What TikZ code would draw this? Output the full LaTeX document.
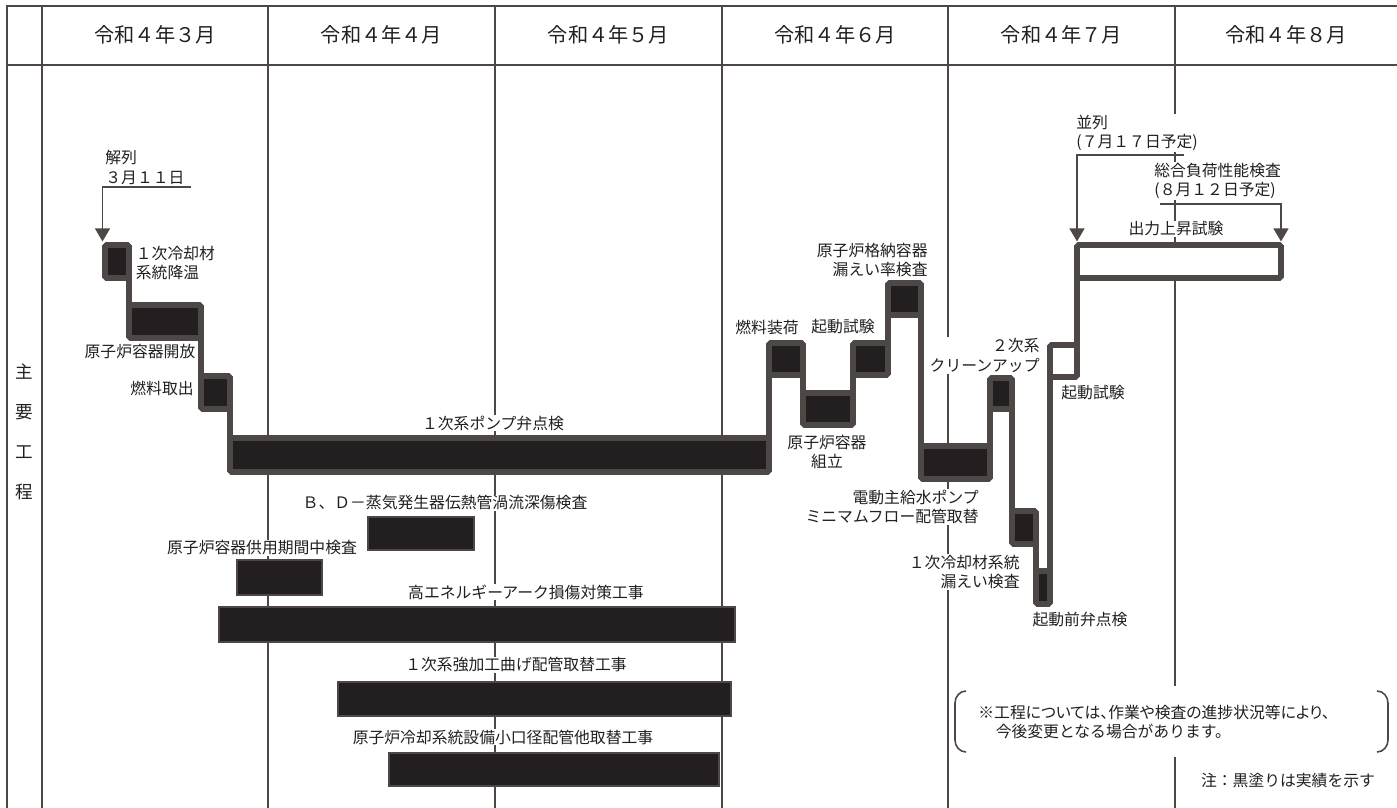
\documentclass[tikz,border=0pt]{standalone}
\usepackage{fontspec}
\setmainfont{Noto Sans CJK JP}
\newfontfamily\paltfont[RawFeature=+palt]{Noto Sans CJK JP}
\usetikzlibrary{arrows.meta,fit}
\definecolor{lineC}{RGB}{77,71,69}
\definecolor{boxC}{RGB}{35,31,32}
\definecolor{txtC}{RGB}{35,31,32}
\newcommand\lf{\fontsize{9pt}{11.2pt}\selectfont}
\begin{document}
\begin{tikzpicture}[x=0.02cm,y=-0.02cm,
 gridline/.style={lineC, line width=1.2pt},
 lbl/.style={fill=white, inner sep=0.6pt, text=txtC, font=\lf},
 head/.style={text=txtC, font=\fontsize{11.5pt}{13pt}\selectfont, inner sep=0pt},
 stage/.style={draw=lineC, fill=boxC, line width=3.4pt, inner sep=0pt, outer sep=0pt, rounded corners=1pt},
 stagew/.style={stage, fill=white},
 conn/.style={lineC, line width=3.4pt, line cap=rect},
 bar/.style={draw=lineC, fill=boxC, line width=0.8pt, inner sep=0pt, outer sep=0pt},
 arr/.style={lineC, line width=1.1pt, -{Triangle[width=8.5pt,length=7.5pt]}},
 brk/.style={lineC, line width=0.9pt}]
\useasboundingbox (0,0) rectangle (1397,808);
% table grid
\draw[gridline] (1397,6) -- (7,6) -- (7,808);
\draw[gridline] (7,65) -- (1397,65);
\foreach \x in {42,268,495,722,948,1175} \draw[gridline] (\x,6) -- (\x,808);
% headers
\node[head] (m3) at (155,35) {令和４年３月};
\node[head] (m4) at (381.5,35) {令和４年４月};
\node[head] (m5) at (608.5,35) {令和４年５月};
\node[head] (m6) at (835,35) {令和４年６月};
\node[head] (m7) at (1061.5,35) {令和４年７月};
\node[head] (m8) at (1286,35) {令和４年８月};
\node[text=txtC, inner sep=0pt, align=center, font=\fontsize{10pt}{22.8pt}\selectfont] (side) at (24.5,432) {主\\要\\工\\程};
% labels
\node[lbl, anchor=west, align=left] (tkai) at (104,167.5) {解列\\３月１１日};
\node[lbl, anchor=west, align=left] (t1) at (134.5,263) {１次冷却材\\系統降温};
\node[lbl] (t2) at (140,352) {原子炉容器開放};
\node[lbl] (t3) at (162,388) {燃料取出};
\node[lbl] (t4) at (493,423) {１次系ポンプ弁点検};
\node[lbl] (t5) at (767,327) {燃料装荷};
\node[lbl, align=center] (t6) at (827,452) {原子炉容器\\組立};
\node[lbl] (t7) at (843,327) {起動試験};
\node[lbl, anchor=east, align=right] (t8) at (929,260) {原子炉格納容器\\漏えい率検査};
\node[lbl, anchor=east, align=right] (t9) at (980,507) {電動主給水ポンプ\\ミニマムフロー配管取替};
\node[lbl, anchor=east, align=right] (t10) at (1041,355.5) {２次系\\クリーンアップ};
\node[lbl, anchor=east, align=right] (t11) at (1021,572) {１次冷却材系統\\漏えい検査};
\node[lbl] (t12) at (1080,620) {起動前弁点検};
\node[lbl] (t13) at (1093,393) {起動試験};
\node[lbl] (t14) at (1176,229) {出力上昇試験};
\node[lbl, anchor=west, align=left] (thei) at (1075,133) {並列\\(７月１７日予定)};
\node[lbl, anchor=west, align=left] (tsogo) at (1153,181) {総合負荷性能検査\\(８月１２日予定)};
\node[lbl] (tbd) at (445,503) {Ｂ、Ｄ－蒸気発生器伝熱管渦流深傷検査};
\node[lbl] (tkyoyo) at (262,548) {原子炉容器供用期間中検査};
\node[lbl] (tkoene) at (526,592) {高エネルギーアーク損傷対策工事};
\node[lbl] (tkyoka) at (516,665) {１次系強加工曲げ配管取替工事};
\node[lbl] (tsho) at (503,737) {原子炉冷却系統設備小口径配管他取替工事};
% note
\fill[white] (953,686) rectangle (1391,757);
\node[lbl, fill=none, anchor=west, align=left, font=\fontsize{9pt}{10.8pt}\selectfont] (note) at (977,722) {{\paltfont ※工程については、作業や検査の進捗状況等により、}\\\hspace*{1.1em}今後変更となる場合があります。};
\node[lbl] (chu) at (1288,780) {注：黒塗りは実績を示す};
\draw[brk] (966,691) to[out=180,in=90] (955,703) -- (955,740) to[out=-90,in=180] (966,752);
\draw[brk] (1377,691) to[out=0,in=90] (1388,703) -- (1388,740) to[out=-90,in=0] (1377,752);
% bars
\node[bar, fit={(368,517) (474,550)}] (bbd) {};
\node[bar, fit={(237,560) (322,595)}] (bkyoyo) {};
\node[bar, fit={(219,607) (735,642)}] (bkoene) {};
\node[bar, fit={(338,682) (731,716)}] (bkyoka) {};
\node[bar, fit={(389,753) (719,786)}] (bsho) {};
% staircase
\node[stage, fit={(105,245) (129,278)}] (b1) {};
\node[stage, fit={(129,305) (201,338)}] (b2) {};
\node[stage, fit={(201,376) (230,409)}] (b3) {};
\node[stage, fit={(230,438) (769,472)}] (b4) {};
\node[stage, fit={(769,343) (803,375)}] (b5) {};
\node[stage, fit={(803,393) (853,425)}] (b6) {};
\node[stage, fit={(853,343) (888,375)}] (b7) {};
\node[stage, fit={(888,283) (921,315)}] (b8) {};
\node[stage, fit={(921,446) (990,479)}] (b9) {};
\node[stage, fit={(990,378) (1012,409)}] (b10) {};
\node[stage, fit={(1012,511) (1036,544)}] (b11) {};
\node[stage, fit={(1036,571) (1050,604)}] (b12) {};
\node[stagew, fit={(1050,345) (1077,377)}] (b13) {};
\node[stagew, fit={(1077,245) (1281,278)}] (b14) {};
\draw[conn] (b1.south east) -- (b2.north west);
\draw[conn] (b2.south east) -- (b3.north west);
\draw[conn] (b3.south east) -- (b4.north west);
\draw[conn] (b4.north east) -- (b5.south west);
\draw[conn] (b5.south east) -- (b6.north west);
\draw[conn] (b6.north east) -- (b7.south west);
\draw[conn] (b7.north east) -- (b8.south west);
\draw[conn] (b8.south east) -- (b9.north west);
\draw[conn] (b9.north east) -- (b10.south west);
\draw[conn] (b10.south east) -- (b11.north west);
\draw[conn] (b11.south east) -- (b12.north west);
\draw[conn] (b12.north east) -- (b13.south west);
\draw[conn] (b13.north east) -- (b14.south west);
% arrows
\coordinate (kaiS) at (191,187);
\coordinate (heiS) at (1184,155);
\coordinate (sogoS) at (1160,204);
\draw[arr, shorten >=2pt] (kaiS) -| ([xshift=-0.05cm]b1.north west);
\draw[arr, shorten >=2pt] (heiS) -| (b14.north west);
\draw[arr, shorten >=2pt] (sogoS) -| (b14.north east);
\end{tikzpicture}
\end{document}
